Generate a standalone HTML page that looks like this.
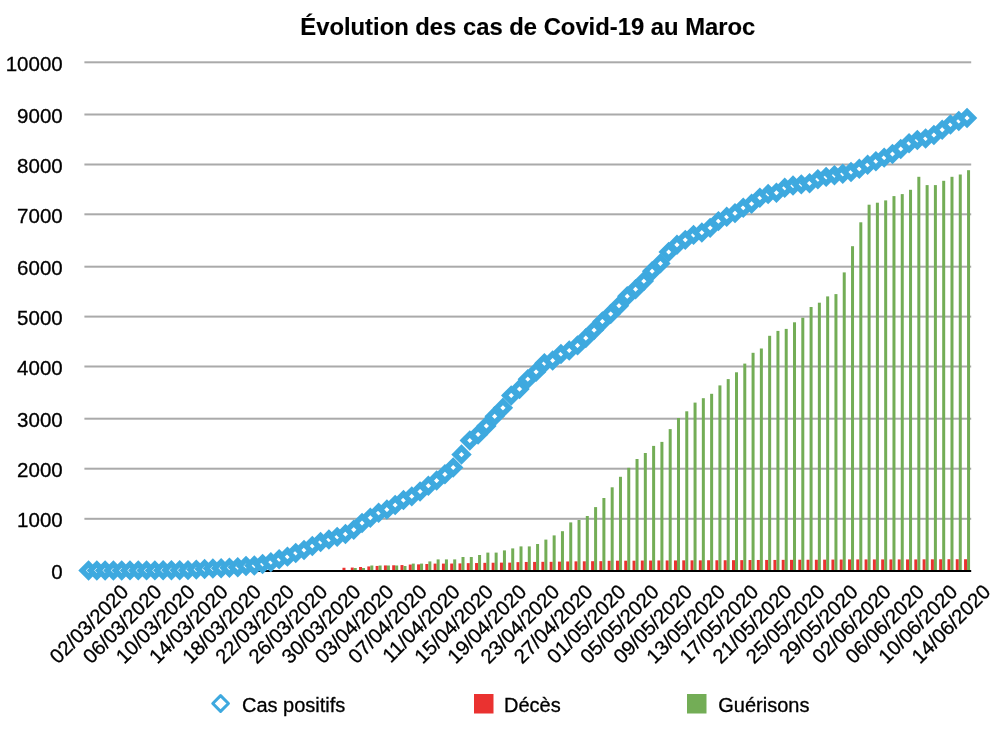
<!DOCTYPE html>
<html><head><meta charset="utf-8"><style>
html,body{margin:0;padding:0;background:#fff;}
svg{display:block;will-change:transform;}
text{font-family:"Liberation Sans",sans-serif;fill:#000;stroke:#000;stroke-width:0.3px;}
</style></head><body>
<svg width="1000" height="729" viewBox="0 0 1000 729">
<rect width="1000" height="729" fill="#fff"/>
<text x="527.8" y="35" text-anchor="middle" font-size="23.8" font-weight="bold" style="stroke-width:0.15px">Évolution des cas de Covid-19 au Maroc</text>
<g font-size="20.5"><text x="62.7" y="579.3" text-anchor="end">0</text><text x="62.7" y="527.1" text-anchor="end">1000</text><text x="62.7" y="477.0" text-anchor="end">2000</text><text x="62.7" y="427.0" text-anchor="end">3000</text><text x="62.7" y="374.8" text-anchor="end">4000</text><text x="62.7" y="324.9" text-anchor="end">5000</text><text x="62.7" y="275.0" text-anchor="end">6000</text><text x="62.7" y="222.6" text-anchor="end">7000</text><text x="62.7" y="172.8" text-anchor="end">8000</text><text x="62.7" y="122.8" text-anchor="end">9000</text><text x="62.7" y="70.6" text-anchor="end">10000</text></g>
<rect x="84.4" y="517.80" width="886.8" height="2" fill="#aaaaaa"/><rect x="84.4" y="467.70" width="886.8" height="2" fill="#aaaaaa"/><rect x="84.4" y="417.70" width="886.8" height="2" fill="#aaaaaa"/><rect x="84.4" y="365.50" width="886.8" height="2" fill="#aaaaaa"/><rect x="84.4" y="315.60" width="886.8" height="2" fill="#aaaaaa"/><rect x="84.4" y="265.70" width="886.8" height="2" fill="#aaaaaa"/><rect x="84.4" y="213.30" width="886.8" height="2" fill="#aaaaaa"/><rect x="84.4" y="163.50" width="886.8" height="2" fill="#aaaaaa"/><rect x="84.4" y="113.50" width="886.8" height="2" fill="#aaaaaa"/><rect x="84.4" y="61.30" width="886.8" height="2" fill="#aaaaaa"/><rect x="342.47" y="567.76" width="3.0" height="3.24" fill="#ea3230"/><rect x="350.76" y="567.56" width="3.0" height="3.44" fill="#ea3230"/><rect x="353.76" y="568.00" width="3.0" height="3.00" fill="#73ad56"/><rect x="359.04" y="567.00" width="3.0" height="4.00" fill="#ea3230"/><rect x="362.04" y="568.00" width="3.0" height="3.00" fill="#73ad56"/><rect x="367.33" y="566.44" width="3.0" height="4.56" fill="#ea3230"/><rect x="370.33" y="565.50" width="3.0" height="5.50" fill="#73ad56"/><rect x="375.62" y="565.94" width="3.0" height="5.06" fill="#ea3230"/><rect x="378.62" y="565.50" width="3.0" height="5.50" fill="#73ad56"/><rect x="383.91" y="565.43" width="3.0" height="5.57" fill="#ea3230"/><rect x="386.91" y="565.50" width="3.0" height="5.50" fill="#73ad56"/><rect x="392.19" y="565.28" width="3.0" height="5.72" fill="#ea3230"/><rect x="395.19" y="565.50" width="3.0" height="5.50" fill="#73ad56"/><rect x="400.48" y="565.07" width="3.0" height="5.93" fill="#ea3230"/><rect x="403.48" y="566.00" width="3.0" height="5.00" fill="#73ad56"/><rect x="408.77" y="564.56" width="3.0" height="6.44" fill="#ea3230"/><rect x="411.77" y="563.60" width="3.0" height="7.40" fill="#73ad56"/><rect x="417.06" y="564.36" width="3.0" height="6.64" fill="#ea3230"/><rect x="420.06" y="563.60" width="3.0" height="7.40" fill="#73ad56"/><rect x="425.35" y="564.01" width="3.0" height="6.99" fill="#ea3230"/><rect x="428.35" y="561.40" width="3.0" height="9.60" fill="#73ad56"/><rect x="433.63" y="563.60" width="3.0" height="7.40" fill="#ea3230"/><rect x="436.63" y="559.40" width="3.0" height="11.60" fill="#73ad56"/><rect x="441.92" y="563.60" width="3.0" height="7.40" fill="#ea3230"/><rect x="444.92" y="559.40" width="3.0" height="11.60" fill="#73ad56"/><rect x="450.21" y="563.55" width="3.0" height="7.45" fill="#ea3230"/><rect x="453.21" y="559.40" width="3.0" height="11.60" fill="#73ad56"/><rect x="458.50" y="563.40" width="3.0" height="7.60" fill="#ea3230"/><rect x="461.50" y="557.00" width="3.0" height="14.00" fill="#73ad56"/><rect x="466.79" y="563.14" width="3.0" height="7.86" fill="#ea3230"/><rect x="469.79" y="557.00" width="3.0" height="14.00" fill="#73ad56"/><rect x="475.07" y="563.04" width="3.0" height="7.96" fill="#ea3230"/><rect x="478.07" y="555.00" width="3.0" height="16.00" fill="#73ad56"/><rect x="483.36" y="562.84" width="3.0" height="8.16" fill="#ea3230"/><rect x="486.36" y="552.60" width="3.0" height="18.40" fill="#73ad56"/><rect x="491.65" y="562.74" width="3.0" height="8.26" fill="#ea3230"/><rect x="494.65" y="552.60" width="3.0" height="18.40" fill="#73ad56"/><rect x="499.94" y="562.63" width="3.0" height="8.37" fill="#ea3230"/><rect x="502.94" y="550.40" width="3.0" height="20.60" fill="#73ad56"/><rect x="508.22" y="562.63" width="3.0" height="8.37" fill="#ea3230"/><rect x="511.22" y="548.40" width="3.0" height="22.60" fill="#73ad56"/><rect x="516.51" y="562.13" width="3.0" height="8.87" fill="#ea3230"/><rect x="519.51" y="546.40" width="3.0" height="24.60" fill="#73ad56"/><rect x="524.80" y="561.97" width="3.0" height="9.03" fill="#ea3230"/><rect x="527.80" y="546.40" width="3.0" height="24.60" fill="#73ad56"/><rect x="533.09" y="561.92" width="3.0" height="9.08" fill="#ea3230"/><rect x="536.09" y="544.00" width="3.0" height="27.00" fill="#73ad56"/><rect x="541.38" y="561.82" width="3.0" height="9.18" fill="#ea3230"/><rect x="544.38" y="539.60" width="3.0" height="31.40" fill="#73ad56"/><rect x="549.66" y="561.82" width="3.0" height="9.18" fill="#ea3230"/><rect x="552.66" y="535.40" width="3.0" height="35.60" fill="#73ad56"/><rect x="557.95" y="561.62" width="3.0" height="9.38" fill="#ea3230"/><rect x="560.95" y="531.20" width="3.0" height="39.80" fill="#73ad56"/><rect x="566.24" y="561.47" width="3.0" height="9.53" fill="#ea3230"/><rect x="569.24" y="522.40" width="3.0" height="48.60" fill="#73ad56"/><rect x="574.53" y="561.36" width="3.0" height="9.64" fill="#ea3230"/><rect x="577.53" y="520.00" width="3.0" height="51.00" fill="#73ad56"/><rect x="582.81" y="561.31" width="3.0" height="9.69" fill="#ea3230"/><rect x="585.81" y="516.00" width="3.0" height="55.00" fill="#73ad56"/><rect x="591.10" y="561.21" width="3.0" height="9.79" fill="#ea3230"/><rect x="594.10" y="507.10" width="3.0" height="63.90" fill="#73ad56"/><rect x="599.39" y="561.16" width="3.0" height="9.84" fill="#ea3230"/><rect x="602.39" y="498.00" width="3.0" height="73.00" fill="#73ad56"/><rect x="607.68" y="560.81" width="3.0" height="10.19" fill="#ea3230"/><rect x="610.68" y="487.30" width="3.0" height="83.70" fill="#73ad56"/><rect x="615.97" y="560.70" width="3.0" height="10.30" fill="#ea3230"/><rect x="618.97" y="476.80" width="3.0" height="94.20" fill="#73ad56"/><rect x="624.25" y="560.70" width="3.0" height="10.30" fill="#ea3230"/><rect x="627.25" y="467.80" width="3.0" height="103.20" fill="#73ad56"/><rect x="632.54" y="560.70" width="3.0" height="10.30" fill="#ea3230"/><rect x="635.54" y="459.00" width="3.0" height="112.00" fill="#73ad56"/><rect x="640.83" y="560.55" width="3.0" height="10.45" fill="#ea3230"/><rect x="643.83" y="453.00" width="3.0" height="118.00" fill="#73ad56"/><rect x="649.12" y="560.55" width="3.0" height="10.45" fill="#ea3230"/><rect x="652.12" y="445.90" width="3.0" height="125.10" fill="#73ad56"/><rect x="657.41" y="560.45" width="3.0" height="10.55" fill="#ea3230"/><rect x="660.41" y="441.90" width="3.0" height="129.10" fill="#73ad56"/><rect x="665.69" y="560.45" width="3.0" height="10.55" fill="#ea3230"/><rect x="668.69" y="429.10" width="3.0" height="141.90" fill="#73ad56"/><rect x="673.98" y="560.45" width="3.0" height="10.55" fill="#ea3230"/><rect x="676.98" y="418.00" width="3.0" height="153.00" fill="#73ad56"/><rect x="682.27" y="560.35" width="3.0" height="10.65" fill="#ea3230"/><rect x="685.27" y="411.30" width="3.0" height="159.70" fill="#73ad56"/><rect x="690.56" y="560.35" width="3.0" height="10.65" fill="#ea3230"/><rect x="693.56" y="402.60" width="3.0" height="168.40" fill="#73ad56"/><rect x="698.84" y="560.35" width="3.0" height="10.65" fill="#ea3230"/><rect x="701.84" y="398.20" width="3.0" height="172.80" fill="#73ad56"/><rect x="707.13" y="560.25" width="3.0" height="10.75" fill="#ea3230"/><rect x="710.13" y="393.80" width="3.0" height="177.20" fill="#73ad56"/><rect x="715.42" y="560.25" width="3.0" height="10.75" fill="#ea3230"/><rect x="718.42" y="385.40" width="3.0" height="185.60" fill="#73ad56"/><rect x="723.71" y="560.25" width="3.0" height="10.75" fill="#ea3230"/><rect x="726.71" y="379.10" width="3.0" height="191.90" fill="#73ad56"/><rect x="732.00" y="560.20" width="3.0" height="10.80" fill="#ea3230"/><rect x="735.00" y="372.30" width="3.0" height="198.70" fill="#73ad56"/><rect x="740.28" y="560.14" width="3.0" height="10.86" fill="#ea3230"/><rect x="743.28" y="363.60" width="3.0" height="207.40" fill="#73ad56"/><rect x="748.57" y="560.04" width="3.0" height="10.96" fill="#ea3230"/><rect x="751.57" y="352.80" width="3.0" height="218.20" fill="#73ad56"/><rect x="756.86" y="559.99" width="3.0" height="11.01" fill="#ea3230"/><rect x="759.86" y="348.50" width="3.0" height="222.50" fill="#73ad56"/><rect x="765.15" y="559.94" width="3.0" height="11.06" fill="#ea3230"/><rect x="768.15" y="335.80" width="3.0" height="235.20" fill="#73ad56"/><rect x="773.44" y="559.94" width="3.0" height="11.06" fill="#ea3230"/><rect x="776.44" y="330.90" width="3.0" height="240.10" fill="#73ad56"/><rect x="781.72" y="559.84" width="3.0" height="11.16" fill="#ea3230"/><rect x="784.72" y="328.90" width="3.0" height="242.10" fill="#73ad56"/><rect x="790.01" y="559.84" width="3.0" height="11.16" fill="#ea3230"/><rect x="793.01" y="322.30" width="3.0" height="248.70" fill="#73ad56"/><rect x="798.30" y="559.74" width="3.0" height="11.26" fill="#ea3230"/><rect x="801.30" y="317.70" width="3.0" height="253.30" fill="#73ad56"/><rect x="806.59" y="559.74" width="3.0" height="11.26" fill="#ea3230"/><rect x="809.59" y="307.00" width="3.0" height="264.00" fill="#73ad56"/><rect x="814.87" y="559.74" width="3.0" height="11.26" fill="#ea3230"/><rect x="817.87" y="302.70" width="3.0" height="268.30" fill="#73ad56"/><rect x="823.16" y="559.64" width="3.0" height="11.36" fill="#ea3230"/><rect x="826.16" y="296.40" width="3.0" height="274.60" fill="#73ad56"/><rect x="831.45" y="559.59" width="3.0" height="11.41" fill="#ea3230"/><rect x="834.45" y="294.10" width="3.0" height="276.90" fill="#73ad56"/><rect x="839.74" y="559.54" width="3.0" height="11.46" fill="#ea3230"/><rect x="842.74" y="272.40" width="3.0" height="298.60" fill="#73ad56"/><rect x="848.03" y="559.43" width="3.0" height="11.57" fill="#ea3230"/><rect x="851.03" y="246.20" width="3.0" height="324.80" fill="#73ad56"/><rect x="856.31" y="559.43" width="3.0" height="11.57" fill="#ea3230"/><rect x="859.31" y="222.30" width="3.0" height="348.70" fill="#73ad56"/><rect x="864.60" y="559.43" width="3.0" height="11.57" fill="#ea3230"/><rect x="867.60" y="204.70" width="3.0" height="366.30" fill="#73ad56"/><rect x="872.89" y="559.43" width="3.0" height="11.57" fill="#ea3230"/><rect x="875.89" y="202.70" width="3.0" height="368.30" fill="#73ad56"/><rect x="881.18" y="559.43" width="3.0" height="11.57" fill="#ea3230"/><rect x="884.18" y="200.40" width="3.0" height="370.60" fill="#73ad56"/><rect x="889.47" y="559.43" width="3.0" height="11.57" fill="#ea3230"/><rect x="892.47" y="196.10" width="3.0" height="374.90" fill="#73ad56"/><rect x="897.75" y="559.43" width="3.0" height="11.57" fill="#ea3230"/><rect x="900.75" y="194.10" width="3.0" height="376.90" fill="#73ad56"/><rect x="906.04" y="559.43" width="3.0" height="11.57" fill="#ea3230"/><rect x="909.04" y="189.80" width="3.0" height="381.20" fill="#73ad56"/><rect x="914.33" y="559.43" width="3.0" height="11.57" fill="#ea3230"/><rect x="917.33" y="176.80" width="3.0" height="394.20" fill="#73ad56"/><rect x="922.62" y="559.33" width="3.0" height="11.67" fill="#ea3230"/><rect x="925.62" y="185.10" width="3.0" height="385.90" fill="#73ad56"/><rect x="930.90" y="559.33" width="3.0" height="11.67" fill="#ea3230"/><rect x="933.90" y="185.10" width="3.0" height="385.90" fill="#73ad56"/><rect x="939.19" y="559.28" width="3.0" height="11.72" fill="#ea3230"/><rect x="942.19" y="180.80" width="3.0" height="390.20" fill="#73ad56"/><rect x="947.48" y="559.23" width="3.0" height="11.77" fill="#ea3230"/><rect x="950.48" y="176.80" width="3.0" height="394.20" fill="#73ad56"/><rect x="955.77" y="559.23" width="3.0" height="11.77" fill="#ea3230"/><rect x="958.77" y="174.50" width="3.0" height="396.50" fill="#73ad56"/><rect x="964.06" y="559.23" width="3.0" height="11.77" fill="#ea3230"/><rect x="967.06" y="170.20" width="3.0" height="400.80" fill="#73ad56"/><rect x="84.4" y="570.0" width="886.8" height="2" fill="#000"/><g fill="#fff" stroke="#3ea9df" stroke-width="5.4" stroke-linejoin="miter"><path d="M82.14 570.45L88.54 564.05L94.94 570.45L88.54 576.85Z"/><path d="M90.43 570.45L96.83 564.05L103.23 570.45L96.83 576.85Z"/><path d="M98.72 570.45L105.12 564.05L111.52 570.45L105.12 576.85Z"/><path d="M107.01 570.45L113.41 564.05L119.81 570.45L113.41 576.85Z"/><path d="M115.30 570.45L121.70 564.05L128.10 570.45L121.70 576.85Z"/><path d="M123.58 570.40L129.98 564.00L136.38 570.40L129.98 576.80Z"/><path d="M131.87 570.40L138.27 564.00L144.67 570.40L138.27 576.80Z"/><path d="M140.16 570.40L146.56 564.00L152.96 570.40L146.56 576.80Z"/><path d="M148.45 570.40L154.85 564.00L161.25 570.40L154.85 576.80Z"/><path d="M156.73 570.34L163.13 563.94L169.53 570.34L163.13 576.74Z"/><path d="M165.02 570.24L171.42 563.84L177.82 570.24L171.42 576.64Z"/><path d="M173.31 570.19L179.71 563.79L186.11 570.19L179.71 576.59Z"/><path d="M181.60 570.13L188.00 563.73L194.40 570.13L188.00 576.53Z"/><path d="M189.89 569.61L196.29 563.21L202.69 569.61L196.29 576.01Z"/><path d="M198.17 569.04L204.57 562.64L210.97 569.04L204.57 575.44Z"/><path d="M206.46 568.57L212.86 562.17L219.26 568.57L212.86 574.97Z"/><path d="M214.75 568.20L221.15 561.80L227.55 568.20L221.15 574.60Z"/><path d="M223.04 567.68L229.44 561.28L235.84 567.68L229.44 574.08Z"/><path d="M231.33 567.21L237.73 560.81L244.13 567.21L237.73 573.61Z"/><path d="M239.61 566.01L246.01 559.61L252.41 566.01L246.01 572.41Z"/><path d="M247.90 565.57L254.30 559.17L260.70 565.57L254.30 571.97Z"/><path d="M256.19 564.01L262.59 557.61L268.99 564.01L262.59 570.41Z"/><path d="M264.48 562.13L270.88 555.73L277.28 562.13L270.88 568.53Z"/><path d="M272.76 559.25L279.16 552.86L285.56 559.25L279.16 565.65Z"/><path d="M281.05 556.64L287.45 550.25L293.85 556.64L287.45 563.04Z"/><path d="M289.34 552.99L295.74 546.59L302.14 552.99L295.74 559.39Z"/><path d="M297.63 550.02L304.03 543.62L310.43 550.02L304.03 556.42Z"/><path d="M305.92 546.00L312.32 539.60L318.72 546.00L312.32 552.40Z"/><path d="M314.20 541.98L320.60 535.58L327.00 541.98L320.60 548.38Z"/><path d="M322.49 539.58L328.89 533.18L335.29 539.58L328.89 545.98Z"/><path d="M330.78 536.86L337.18 530.46L343.58 536.86L337.18 543.26Z"/><path d="M339.07 534.04L345.47 527.64L351.87 534.04L345.47 540.44Z"/><path d="M347.36 529.71L353.76 523.31L360.16 529.71L353.76 536.11Z"/><path d="M355.64 523.03L362.04 516.63L368.44 523.03L362.04 529.43Z"/><path d="M363.93 517.75L370.33 511.35L376.73 517.75L370.33 524.15Z"/><path d="M372.22 512.79L378.62 506.39L385.02 512.79L378.62 519.19Z"/><path d="M380.51 509.58L386.91 503.18L393.31 509.58L386.91 515.98Z"/><path d="M388.79 505.02L395.19 498.62L401.59 505.02L395.19 511.42Z"/><path d="M397.08 500.06L403.48 493.66L409.88 500.06L403.48 506.46Z"/><path d="M405.37 496.36L411.77 489.96L418.17 496.36L411.77 502.76Z"/><path d="M413.66 491.50L420.06 485.10L426.46 491.50L420.06 497.90Z"/><path d="M421.95 485.68L428.35 479.28L434.75 485.68L428.35 492.08Z"/><path d="M430.23 480.57L436.63 474.17L443.03 480.57L436.63 486.97Z"/><path d="M438.52 474.31L444.92 467.91L451.32 474.31L444.92 480.71Z"/><path d="M446.81 467.50L453.21 461.10L459.61 467.50L453.21 473.90Z"/><path d="M455.10 454.55L461.50 448.15L467.90 454.55L461.50 460.95Z"/><path d="M463.39 440.50L469.79 434.10L476.19 440.50L469.79 446.90Z"/><path d="M471.67 434.45L478.07 428.05L484.47 434.45L478.07 440.85Z"/><path d="M479.96 425.95L486.36 419.55L492.76 425.95L486.36 432.35Z"/><path d="M488.25 416.30L494.65 409.90L501.05 416.30L494.65 422.70Z"/><path d="M496.54 407.79L502.94 401.39L509.34 407.79L502.94 414.19Z"/><path d="M504.82 395.42L511.22 389.02L517.62 395.42L511.22 401.82Z"/><path d="M513.11 389.05L519.51 382.65L525.91 389.05L519.51 395.45Z"/><path d="M521.40 379.13L527.80 372.73L534.20 379.13L527.80 385.53Z"/><path d="M529.69 371.88L536.09 365.48L542.49 371.88L536.09 378.28Z"/><path d="M537.98 363.26L544.38 356.86L550.78 363.26L544.38 369.66Z"/><path d="M546.26 360.51L552.66 354.11L559.06 360.51L552.66 366.91Z"/><path d="M554.55 353.93L560.95 347.53L567.35 353.93L560.95 360.33Z"/><path d="M562.84 350.48L569.24 344.08L575.64 350.48L569.24 356.88Z"/><path d="M571.13 345.39L577.53 338.99L583.93 345.39L577.53 351.79Z"/><path d="M579.41 338.11L585.81 331.71L592.21 338.11L585.81 344.51Z"/><path d="M587.70 330.12L594.10 323.72L600.50 330.12L594.10 336.52Z"/><path d="M595.99 321.44L602.39 315.04L608.79 321.44L602.39 327.84Z"/><path d="M604.28 313.96L610.68 307.56L617.08 313.96L610.68 320.36Z"/><path d="M612.57 305.67L618.97 299.27L625.37 305.67L618.97 312.07Z"/><path d="M620.85 296.24L627.25 289.84L633.65 296.24L627.25 302.64Z"/><path d="M629.14 289.25L635.54 282.85L641.94 289.25L635.54 295.65Z"/><path d="M637.43 281.12L643.83 274.72L650.23 281.12L643.83 287.52Z"/><path d="M645.72 271.19L652.12 264.79L658.52 271.19L652.12 277.59Z"/><path d="M654.01 263.40L660.41 257.00L666.81 263.40L660.41 269.80Z"/><path d="M662.29 251.98L668.69 245.58L675.09 251.98L668.69 258.38Z"/><path d="M670.58 244.80L676.98 238.40L683.38 244.80L676.98 251.20Z"/><path d="M678.87 239.87L685.27 233.47L691.67 239.87L685.27 246.27Z"/><path d="M687.16 234.89L693.56 228.49L699.96 234.89L693.56 241.29Z"/><path d="M695.44 232.54L701.84 226.14L708.24 232.54L701.84 238.94Z"/><path d="M703.73 227.87L710.13 221.47L716.53 227.87L710.13 234.27Z"/><path d="M712.02 221.11L718.42 214.71L724.82 221.11L718.42 227.51Z"/><path d="M720.31 216.82L726.71 210.42L733.11 216.82L726.71 223.22Z"/><path d="M728.60 213.15L735.00 206.75L741.40 213.15L735.00 219.55Z"/><path d="M736.88 207.68L743.28 201.28L749.68 207.68L743.28 214.08Z"/><path d="M745.17 203.79L751.57 197.39L757.97 203.79L751.57 210.19Z"/><path d="M753.46 197.77L759.86 191.37L766.26 197.77L759.86 204.17Z"/><path d="M761.75 194.08L768.15 187.68L774.55 194.08L768.15 200.48Z"/><path d="M770.04 192.74L776.44 186.34L782.84 192.74L776.44 199.14Z"/><path d="M778.32 187.81L784.72 181.41L791.12 187.81L784.72 194.21Z"/><path d="M786.61 185.57L793.01 179.17L799.41 185.57L793.01 191.97Z"/><path d="M794.90 184.37L801.30 177.97L807.70 184.37L801.30 190.77Z"/><path d="M803.19 183.20L809.59 176.80L815.99 183.20L809.59 189.60Z"/><path d="M811.47 179.20L817.87 172.80L824.27 179.20L817.87 185.60Z"/><path d="M819.76 176.90L826.16 170.50L832.56 176.90L826.16 183.30Z"/><path d="M828.05 175.20L834.45 168.80L840.85 175.20L834.45 181.60Z"/><path d="M836.34 173.80L842.74 167.40L849.14 173.80L842.74 180.20Z"/><path d="M844.63 172.00L851.03 165.60L857.43 172.00L851.03 178.40Z"/><path d="M852.91 168.80L859.31 162.40L865.71 168.80L859.31 175.20Z"/><path d="M861.20 164.80L867.60 158.40L874.00 164.80L867.60 171.20Z"/><path d="M869.49 161.20L875.89 154.80L882.29 161.20L875.89 167.60Z"/><path d="M877.78 157.60L884.18 151.20L890.58 157.60L884.18 164.00Z"/><path d="M886.07 154.00L892.47 147.60L898.87 154.00L892.47 160.40Z"/><path d="M894.35 149.00L900.75 142.60L907.15 149.00L900.75 155.40Z"/><path d="M902.64 143.20L909.04 136.80L915.44 143.20L909.04 149.60Z"/><path d="M910.93 140.00L917.33 133.60L923.73 140.00L917.33 146.40Z"/><path d="M919.22 138.50L925.62 132.10L932.02 138.50L925.62 144.90Z"/><path d="M927.50 135.00L933.90 128.60L940.30 135.00L933.90 141.40Z"/><path d="M935.79 129.80L942.19 123.40L948.59 129.80L942.19 136.20Z"/><path d="M944.08 124.50L950.48 118.10L956.88 124.50L950.48 130.90Z"/><path d="M952.37 121.00L958.77 114.60L965.17 121.00L958.77 127.40Z"/><path d="M960.66 118.00L967.06 111.60L973.46 118.00L967.06 124.40Z"/></g>
<g font-size="20.3"><text transform="translate(129.83,593.00) rotate(-45)" text-anchor="end">02/03/2020</text><text transform="translate(162.98,593.00) rotate(-45)" text-anchor="end">06/03/2020</text><text transform="translate(196.13,593.00) rotate(-45)" text-anchor="end">10/03/2020</text><text transform="translate(229.29,593.00) rotate(-45)" text-anchor="end">14/03/2020</text><text transform="translate(262.44,593.00) rotate(-45)" text-anchor="end">18/03/2020</text><text transform="translate(295.59,593.00) rotate(-45)" text-anchor="end">22/03/2020</text><text transform="translate(328.74,593.00) rotate(-45)" text-anchor="end">26/03/2020</text><text transform="translate(361.89,593.00) rotate(-45)" text-anchor="end">30/03/2020</text><text transform="translate(395.04,593.00) rotate(-45)" text-anchor="end">03/04/2020</text><text transform="translate(428.19,593.00) rotate(-45)" text-anchor="end">07/04/2020</text><text transform="translate(461.35,593.00) rotate(-45)" text-anchor="end">11/04/2020</text><text transform="translate(494.50,593.00) rotate(-45)" text-anchor="end">15/04/2020</text><text transform="translate(527.65,593.00) rotate(-45)" text-anchor="end">19/04/2020</text><text transform="translate(560.80,593.00) rotate(-45)" text-anchor="end">23/04/2020</text><text transform="translate(593.95,593.00) rotate(-45)" text-anchor="end">27/04/2020</text><text transform="translate(627.10,593.00) rotate(-45)" text-anchor="end">01/05/2020</text><text transform="translate(660.25,593.00) rotate(-45)" text-anchor="end">05/05/2020</text><text transform="translate(693.41,593.00) rotate(-45)" text-anchor="end">09/05/2020</text><text transform="translate(726.56,593.00) rotate(-45)" text-anchor="end">13/05/2020</text><text transform="translate(759.71,593.00) rotate(-45)" text-anchor="end">17/05/2020</text><text transform="translate(792.86,593.00) rotate(-45)" text-anchor="end">21/05/2020</text><text transform="translate(826.01,593.00) rotate(-45)" text-anchor="end">25/05/2020</text><text transform="translate(859.16,593.00) rotate(-45)" text-anchor="end">29/05/2020</text><text transform="translate(892.31,593.00) rotate(-45)" text-anchor="end">02/06/2020</text><text transform="translate(925.47,593.00) rotate(-45)" text-anchor="end">06/06/2020</text><text transform="translate(958.62,593.00) rotate(-45)" text-anchor="end">10/06/2020</text><text transform="translate(991.77,593.00) rotate(-45)" text-anchor="end">14/06/2020</text></g>
<g font-size="20">
<path d="M212.75 703.5L220.6 695.65L228.45 703.5L220.6 711.35Z" fill="#fff" stroke="#3ea9df" stroke-width="3.0" stroke-linejoin="round"/>
<text x="242" y="712">Cas positifs</text>
<rect x="474" y="694" width="19.5" height="19.5" fill="#ea3230"/>
<text x="504" y="711.5">Décès</text>
<rect x="687" y="694" width="19.5" height="19.5" fill="#73ad56"/>
<text x="718.3" y="711.5">Guérisons</text>
</g>
</svg>
</body></html>
